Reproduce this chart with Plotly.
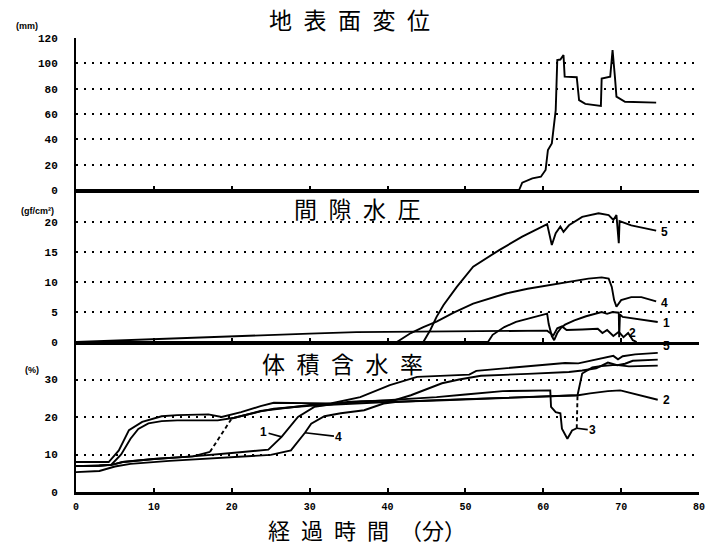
import plotly.graph_objects as go

# ---- 地表面変位 (mm) ----
disp_t = [0, 56.9, 57.3, 58.6, 59.7, 60.3, 60.6, 61.1, 61.6, 61.8, 62.2, 62.6, 62.75,
          64.3, 64.6, 65.4, 67.4, 67.5, 68.6, 68.9, 69.2, 69.4, 70.5, 74.5]
disp_v = [0, 0, 5.8, 9.2, 10.5, 15.8, 31.6, 36.8, 63, 102.6, 103, 106.6, 89.5,
          89, 71, 68, 66.3, 88, 89.5, 110.5, 89.5, 73.7, 69.7, 69]

# ---- 間隙水圧 (gf/cm2), sensors 5, 4, 1, 2 ----
pw_t5 = [0, 44.6, 45.5, 46.3, 47.2, 48.9, 51, 54.4, 57.3, 60.5, 61.1, 61.6, 62.2, 62.6,
         63.3, 65, 67.1, 68.4, 69.0, 69.4, 69.7, 69.8, 71.3, 74.5]
pw_v5 = [0, 0, 2, 4.2, 6.2, 9.2, 12.6, 15.4, 17.6, 19.7, 16.2, 18.2, 19.3, 18.4,
         19.5, 20.9, 21.5, 21.2, 20.4, 21.2, 16.5, 20.2, 19.5, 18.6]
pw_t4 = [0, 41.2, 43, 44.6, 46.3, 48.5, 51, 53, 55.2, 58, 60.7, 63, 65.8, 67.5, 68.4,
         68.8, 69.1, 69.4, 70, 71.3, 72.6, 74.5]
pw_v4 = [0, 0, 1.5, 2.5, 3.4, 4.9, 6.4, 7.2, 8.1, 8.9, 9.5, 10.1, 10.6, 10.8, 10.6,
         9.2, 7, 5.9, 7, 7.5, 7.5, 6.8]
pw_t1 = [0, 52.9, 53.5, 55, 56.5, 58.5, 60.5, 60.7, 61.1, 61.4, 61.8, 62.3, 62.8, 64,
         65.5, 67.5, 68.2, 68.9, 69.7, 69.75, 69.85, 70.2, 71.8, 74.7]
pw_v1 = [0, 0, 1.2, 2.5, 3.35, 4.1, 4.75, 3.0, 1.0, 0.3, 1.5, 2.4, 2.9, 3.6,
         4.3, 5.0, 4.7, 5.0, 4.9, 0.8, 4.6, 4.2, 3.9, 3.35]
pw_t2 = [0, 10, 20, 30, 36, 45, 55, 60.5, 61.3, 61.8, 62.4, 63.0, 65, 67.0, 67.6, 68.2,
         69.0, 69.7, 70.3, 70.9, 71.5, 72.0]
pw_v2 = [0, 0.5, 0.95, 1.4, 1.65, 1.75, 1.85, 1.9, 1.1, 2.3, 2.6, 2.0, 2.1, 2.2, 1.5, 2.0,
         1.0, 1.7, 0.8, 1.5, 0.3, 0]

# ---- 体積含水率 (%), sensors 1-5 ----
vw_t5 = [0, 4.2, 5.5, 6.8, 8.5, 11, 13, 17, 18.7, 21.2, 23.7, 25.4, 30, 32.7, 36.5, 40.3,
         43.8, 47.6, 50.5, 51.4, 55, 59, 62.8, 64.5, 66.2, 68.3, 69.0, 69.6, 70.2, 71.8, 74.7]
vw_v5 = [8, 8, 11.1, 16.5, 18.7, 20.2, 20.5, 20.7, 20.0, 21.3, 22.9, 23.8, 23.7, 23.6, 25.3,
         28.5, 30.7, 31.1, 31.3, 32.3, 33.0, 33.8, 34.4, 34.3, 35.1, 36.0, 36.3, 35.4, 36.2,
         36.7, 37.1]
vw_t2 = [0, 4.5, 5.8, 7.0, 8.0, 9.3, 11, 13, 18.2, 20.3, 23.7, 25.4, 30, 35, 40, 46.3, 55,
         60, 64.5, 66, 68.3, 69.9, 71.5, 74.7]
vw_v2 = [6.9, 7.2, 10.0, 14.2, 16.8, 18.3, 18.9, 19.1, 19.1, 19.8, 21.5, 22.2, 23.0, 23.5,
         24.0, 24.4, 25.0, 25.4, 25.8, 26.3, 26.9, 27.1, 26.2, 24.6]
vw_t1 = [0, 3, 4.7, 6, 10, 15, 20, 22, 24.7, 26.4, 28.5, 30.6, 34.9, 36.5, 38, 40.8, 43, 45,
         47, 49.2, 52, 58, 63.3, 65, 66.8, 68.3, 69.5, 70.5, 71.5, 74.7]
vw_v1 = [6.9, 7.0, 7.3, 8.0, 8.8, 9.5, 10.4, 10.8, 11.3, 14.7, 20.0, 22.7, 24.0, 24.2, 24.3,
         24.4, 25.8, 27.5, 29.0, 30.0, 31.0, 31.5, 32.0, 32.4, 33.0, 34.5, 33.8, 34.2, 35.0,
         35.3]
vw_t4 = [0, 3, 5, 7, 12, 17, 22, 25, 27.6, 28.5, 29.4, 30.2, 31.9, 34, 37, 39.5, 41, 46.3,
         55, 60, 63, 64.4, 65, 66.3, 67.5, 69.3, 71, 74.7]
vw_v4 = [5.3, 5.6, 6.8, 7.5, 8.3, 8.9, 9.5, 9.9, 11.1, 13.3, 15.8, 18.2, 20.2, 21.0, 21.8,
         23.6, 24.0, 24.5, 25.1, 25.4, 25.6, 25.8, 31.6, 33.2, 33.6, 33.9, 33.5, 33.7]
vw_t3 = [0, 3, 4.7, 6, 10, 15, 17.2, 20.0, 23.7, 30, 36, 41, 46.3, 50, 54.8, 58, 60.9, 61.0,
         61.6, 62.2, 62.4, 63.1, 63.7, 64.3, 64.4]
vw_v3 = [6.9, 7.0, 7.3, 8.0, 8.8, 9.5, 10.7, 19.6, 21.6, 23.2, 24.0, 24.5, 25.3, 26.0, 26.9,
         27.0, 27.1, 22.7, 21.3, 21.0, 16.9, 14.2, 16.4, 17.0, 25.8]
vw_3_dashed = [(6, 7), (23, 24)]   # index pairs drawn as broken line

x_ticks = [0, 10, 20, 30, 40, 50, 60, 70, 80]
disp_ticks = [0, 20, 40, 60, 80, 100, 120]
pw_ticks = [0, 5, 10, 15, 20]
vw_ticks = [0, 10, 20, 30]

INK = "black"
LW = 1.9
TICKFONT = dict(family="Liberation Mono", size=11, color=INK, weight="bold")
XTICKFONT = dict(family="Liberation Mono", size=10, color=INK, weight="bold")
LABELFONT = dict(family="Liberation Sans", size=12, color=INK, weight="bold")
CJK = "Noto Sans CJK JP"

fig = go.Figure()


def curve(t, v, xa, ya, dash="solid"):
    fig.add_trace(go.Scatter(x=t, y=v, mode="lines", xaxis=xa, yaxis=ya,
                             line=dict(color=INK, width=LW, dash=dash),
                             hoverinfo="skip", showlegend=False))


# top panel
curve(disp_t, disp_v, "x3", "y3")

# middle panel
for t, v in [(pw_t5, pw_v5), (pw_t4, pw_v4), (pw_t1, pw_v1), (pw_t2, pw_v2)]:
    curve(t, v, "x2", "y2")

# bottom panel
for t, v in [(vw_t5, vw_v5), (vw_t2, vw_v2), (vw_t1, vw_v1), (vw_t4, vw_v4)]:
    curve(t, v, "x", "y")

# sensor 3: solid pieces with short broken sections
cuts = [0]
for a, b in vw_3_dashed:
    cuts += [a, b]
cuts.append(len(vw_t3) - 1)
for k in range(len(cuts) - 1):
    a, b = cuts[k], cuts[k + 1]
    if b <= a:
        continue
    dashed = (a, b) in vw_3_dashed
    curve(vw_t3[a:b + 1], vw_v3[a:b + 1], "x", "y",
          dash="4px,3px" if dashed else "solid")

# layout geometry
H_TOP, H_MID, H_BOT = 152, 152, 150
TOT = H_TOP + H_MID + H_BOT
d_bot = [0, H_BOT / TOT]
d_mid = [H_BOT / TOT, (H_BOT + H_MID) / TOT]
d_top = [(H_BOT + H_MID) / TOT, 1]

xcommon = dict(range=[0, 80], tickvals=x_ticks, showline=True, linecolor=INK, linewidth=2.5,
               ticks="inside", ticklen=4, tickwidth=1.5, tickcolor=INK, showgrid=False,
               zeroline=False, fixedrange=True)
ycommon = dict(showline=True, linecolor=INK, linewidth=2, ticks="", showgrid=True,
               gridcolor=INK, gridwidth=2, griddash="2px,6px", zeroline=False,
               tickfont=TICKFONT, ticklabelstandoff=14, fixedrange=True)

fig.update_layout(
    width=715, height=545,
    margin=dict(l=76, r=10, t=38, b=53),
    paper_bgcolor="white", plot_bgcolor="white",
    showlegend=False,
    xaxis=dict(**xcommon, anchor="y", domain=[0, 1], tickfont=XTICKFONT,
               ticklabelstandoff=3),
    xaxis2=dict(**xcommon, anchor="y2", domain=[0, 1], matches="x", showticklabels=False),
    xaxis3=dict(**xcommon, anchor="y3", domain=[0, 1], matches="x", showticklabels=False),
    yaxis=dict(**ycommon, anchor="x", domain=d_bot, range=[0, 40], tickvals=vw_ticks),
    yaxis2=dict(**ycommon, anchor="x2", domain=d_mid, range=[0, 25.4], tickvals=pw_ticks),
    yaxis3=dict(**ycommon, anchor="x3", domain=d_top, range=[0, 120], tickvals=disp_ticks),
)


def ptext(text, x, y, size, family=CJK, weight="normal", yanchor="middle"):
    fig.add_annotation(text=text, x=x, y=y, xref="paper", yref="paper", showarrow=False,
                       xanchor="center", yanchor=yanchor, borderpad=0,
                       font=dict(family=family, size=size, color=INK, weight=weight))


# panel titles and axis title
ptext("地\u2002表\u2002面\u2002変\u2002位", 0.4396, 1.0419, 23)
ptext("間\u2002隙\u2002水\u2002圧", 0.4515, 0.6256, 23)
ptext("体\u2002積\u2002含\u2002水\u2002率", 0.4285, 0.2841, 23)
ptext("経\u2002過\u2002時\u2002間\u2002（分）", 0.4674, -0.0441, 22, yanchor="top")

# units
ptext("(mm)", -0.0779, 1.0264, 9, family="Liberation Sans", weight="bold")
ptext("(gf/cm²)", -0.062, 0.619, 9, family="Liberation Sans", weight="bold")
ptext("(%)", -0.07, 0.2687, 9, family="Liberation Sans", weight="bold")


def end_label(text, t, v, xa, ya, dx=3, dy=0):
    fig.add_annotation(text=text, x=t[-1], y=v[-1], xref=xa, yref=ya, showarrow=False,
                       xanchor="left", yanchor="middle", xshift=dx, yshift=dy,
                       font=LABELFONT)


end_label("5", pw_t5, pw_v5, "x2", "y2", dx=3, dy=-1)
end_label("4", pw_t4, pw_v4, "x2", "y2", dx=3, dy=-2)
end_label("1", pw_t1, pw_v1, "x2", "y2", dx=3, dy=-1)
end_label("2", pw_t2, pw_v2, "x2", "y2", dx=-10, dy=9)
end_label("5", vw_t5, vw_v5, "x", "y", dx=3, dy=7)
end_label("2", vw_t2, vw_v2, "x", "y", dx=3, dy=0)


def lead_label(text, t, v, i, ax, ay):
    fig.add_annotation(text=text, x=t[i], y=v[i], xref="x", yref="y", showarrow=True,
                       arrowhead=0, arrowwidth=1.6, arrowcolor=INK, ax=ax, ay=ay,
                       font=LABELFONT)


lead_label("1", vw_t1, vw_v1, 9, -18, -5)
lead_label("4", vw_t4, vw_v4, 10, 34, 4)
lead_label("3", vw_t3, vw_v3, 23, 16, 2)

fig.write_html("out.html")
